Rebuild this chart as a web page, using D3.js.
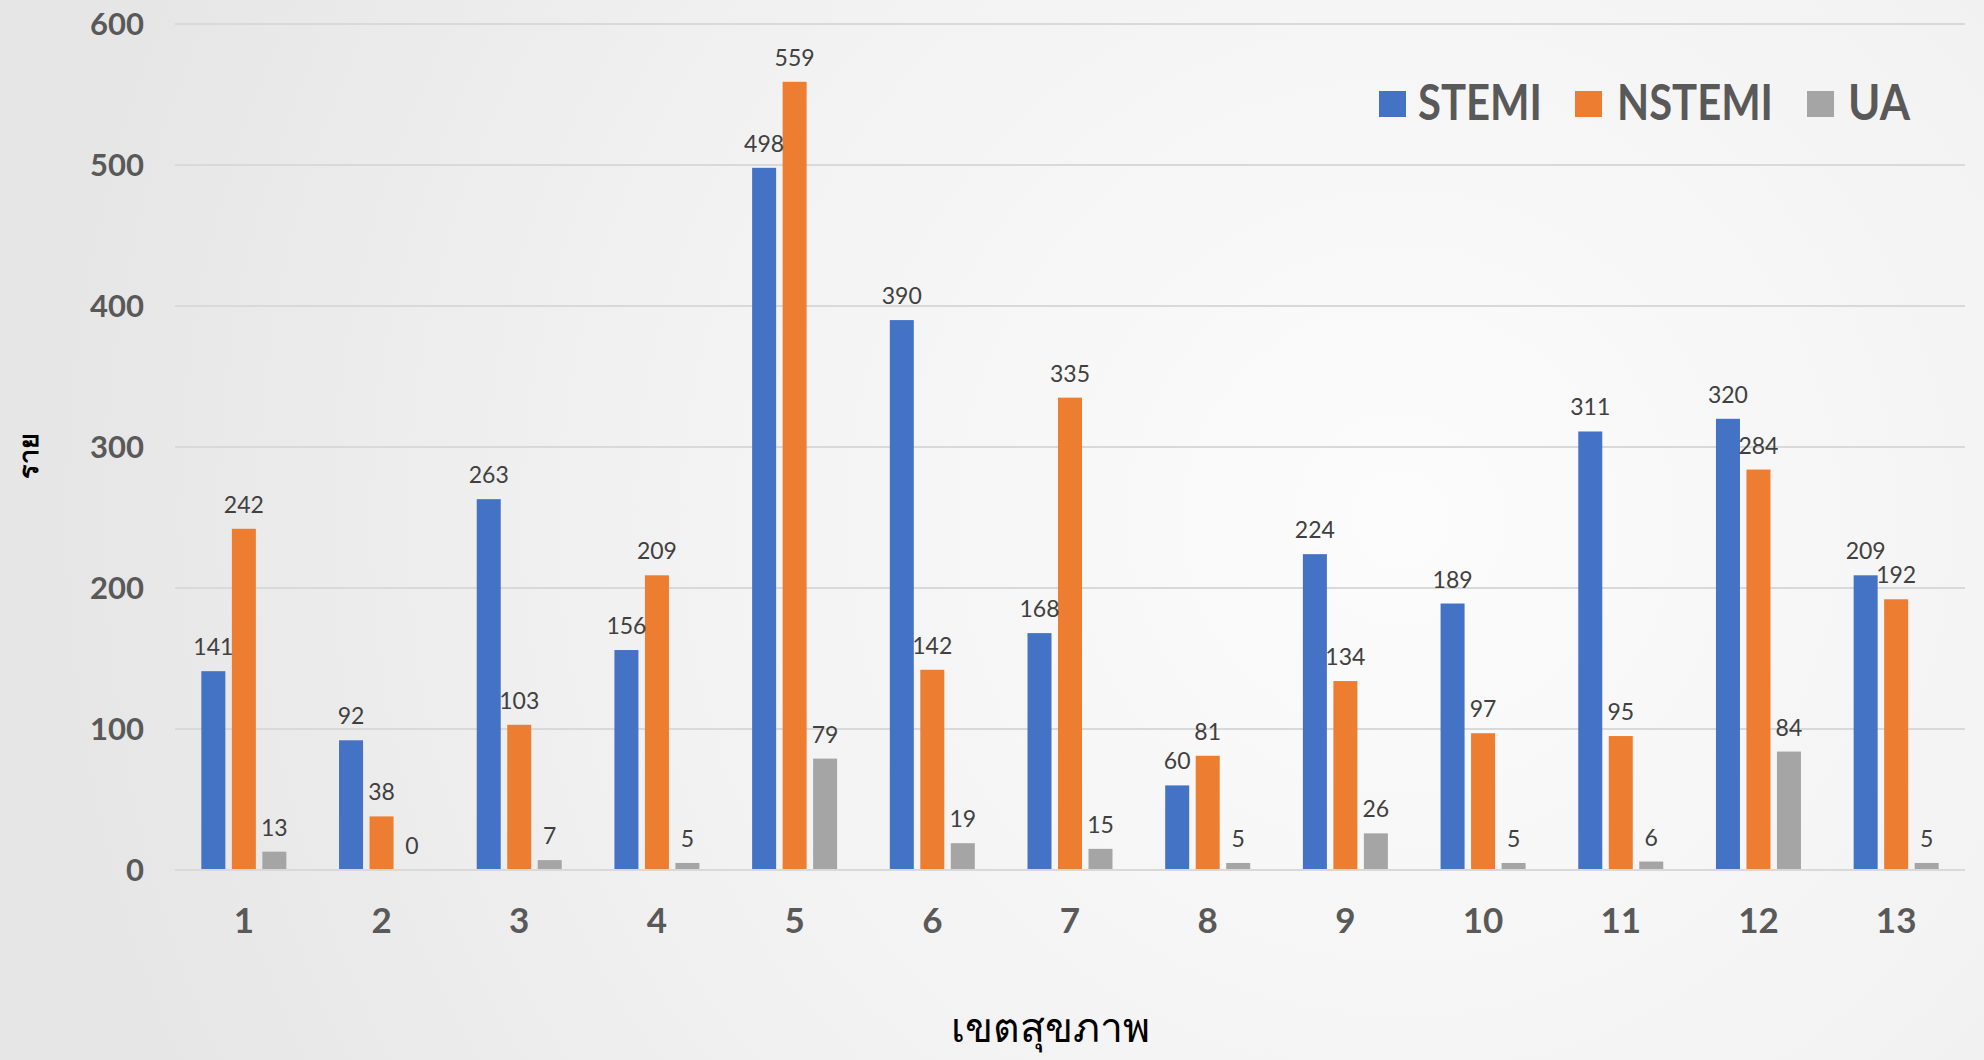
<!DOCTYPE html>
<html><head><meta charset="utf-8">
<script src="https://cdn.jsdelivr.net/npm/d3@7"></script>
<style>html,body{margin:0;padding:0;overflow:hidden;}</style>
</head><body>
<svg id="c" width="1984" height="1060"></svg>
<script>
const categories = ["1","2","3","4","5","6","7","8","9","10","11","12","13"];
const seriesNames = ["STEMI","NSTEMI","UA"];
const stemi  = [141, 92, 263, 156, 498, 390, 168, 60, 224, 189, 311, 320, 209];
const nstemi = [242, 38, 103, 209, 559, 142, 335, 81, 134, 97, 95, 284, 192];
const ua     = [13, 0, 7, 5, 79, 19, 15, 5, 26, 5, 6, 84, 5];
const yTicks = [0, 100, 200, 300, 400, 500, 600];
const colors = ["#4472C4", "#ED7D31", "#A5A5A5"];
const yTitle = "ราย";
const xTitle = "เขตสุขภาพ";

(function(){
const seriesValues = [stemi, nstemi, ua];
const svg = d3.select("#c");

const defs = svg.append("defs");
const rg = defs.append("radialGradient").attr("id","bg")
  .attr("gradientUnits","userSpaceOnUse").attr("cx",1400).attr("cy",520).attr("r",1350);
rg.append("stop").attr("offset","0").attr("stop-color","#fcfcfc");
rg.append("stop").attr("offset","0.55").attr("stop-color","#f2f2f2");
rg.append("stop").attr("offset","1").attr("stop-color","#e6e6e6");
svg.append("rect").attr("width",1984).attr("height",1060).attr("fill","url(#bg)");

const pL = 175, pR = 1965, pT = 24, pB = 870;
const x0 = d3.scaleBand().domain(categories).range([pL, pR]).paddingInner(0).paddingOuter(0);
const y = d3.scaleLinear().domain([0, 600]).range([pB, pT]);
const x1 = d3.scaleBand().domain(seriesNames).range([-42.5, 42.5]).paddingInner(0.213).paddingOuter(0);

svg.append("g").selectAll("line").data(yTicks).join("line")
  .attr("x1", pL).attr("x2", pR)
  .attr("y1", d => y(d)).attr("y2", d => y(d))
  .attr("stroke", "#d9d9d9").attr("stroke-width", 2);

svg.append("g").selectAll("text").data(yTicks).join("text")
  .attr("x", 144).attr("y", d => y(d)).attr("dy", "0.36em")
  .attr("text-anchor", "end")
  .attr("font-family", "Lato, 'Open Sans', sans-serif").attr("font-weight", 700)
  .attr("font-size", 31).attr("fill", "#595959")
  .text(d => d);

svg.append("g").selectAll("text").data(categories).join("text")
  .attr("x", d => x0(d) + x0.bandwidth()/2).attr("y", 933)
  .attr("text-anchor", "middle")
  .attr("font-family", "Lato, 'Open Sans', sans-serif").attr("font-weight", 700)
  .attr("font-size", 35).attr("fill", "#595959")
  .text(d => d);

const data = [];
categories.forEach((c, i) => seriesNames.forEach((s, j) => data.push({c, s, j, v: seriesValues[j][i]})));
const bx = d => x0(d.c) + x0.bandwidth()/2 + x1(d.s);
svg.append("g").selectAll("rect").data(data).join("rect")
  .attr("x", bx).attr("width", x1.bandwidth())
  .attr("y", d => y(d.v)).attr("height", d => Math.max(0, pB - y(d.v) - 1))
  .attr("fill", d => colors[d.j]);

svg.append("g").selectAll("text").data(data).join("text")
  .attr("x", d => bx(d) + x1.bandwidth()/2).attr("y", d => y(d.v) - 16)
  .attr("text-anchor", "middle")
  .attr("font-family", "Lato, 'Open Sans', sans-serif").attr("font-weight", 400)
  .attr("font-size", 23).attr("fill", "#404040")
  .text(d => d.v);

const legendItems = [
  {name: "STEMI", sx: 1379, tx: 1418, tw: 124},
  {name: "NSTEMI", sx: 1575, tx: 1617, tw: 156},
  {name: "UA", sx: 1807, tx: 1848, tw: 62}
];
const lg = svg.append("g");
legendItems.forEach((it, i) => {
  lg.append("rect").attr("x", it.sx).attr("y", 91).attr("width", 27).attr("height", 26).attr("fill", colors[i]);
  lg.append("text").attr("x", it.tx).attr("y", 120)
    .attr("font-family", "Lato, 'Open Sans', sans-serif").attr("font-weight", 700)
    .attr("font-size", 49).attr("fill", "#595959")
    .attr("textLength", it.tw).attr("lengthAdjust", "spacingAndGlyphs")
    .text(it.name);
});

svg.append("text").attr("transform", "translate(38,456) rotate(-90)")
  .attr("text-anchor", "middle")
  .attr("font-family", "'Noto Sans', 'DejaVu Sans', sans-serif").attr("font-weight", 700)
  .attr("font-size", 27).attr("fill", "#000")
  .text(yTitle);
svg.append("text").attr("x", 1050).attr("y", 1042)
  .attr("text-anchor", "middle")
  .attr("font-family", "'Noto Sans', 'DejaVu Sans', sans-serif").attr("font-weight", 500)
  .attr("font-size", 41).attr("fill", "#000")
  .text(xTitle);
})();
</script>
</body></html>
